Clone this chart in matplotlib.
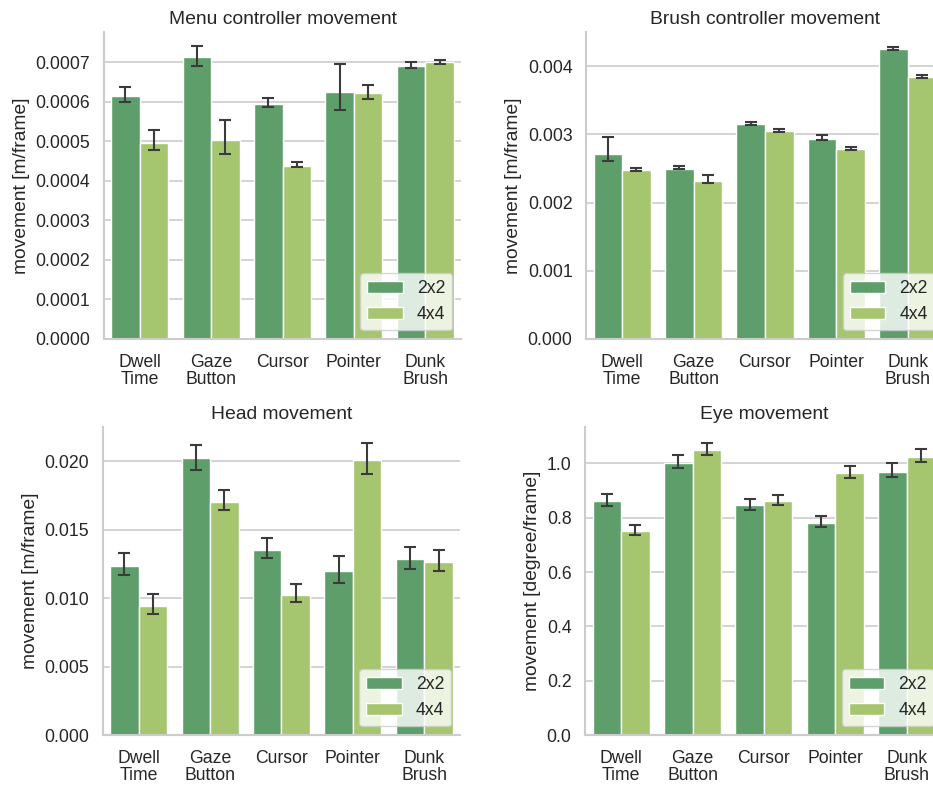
"""Movement per frame for each selection technique, 2x2 vs 4x4 grids"""
import numpy as np
import seaborn as sns
from matplotlib import pyplot as plt
from matplotlib.ticker import MultipleLocator, FormatStrFormatter

techniques = ["Dwell\nTime", "Gaze\nButton", "Cursor", "Pointer", "Dunk\nBrush"]
grids = ["2x2", "4x4"]

# menu controller movement [m/frame]: means, lower and upper CI bounds
menu_2x2 = [0.000616, 0.000713, 0.000596, 0.000626, 0.000691]
menu_2x2_lo = [0.000600, 0.000691, 0.000586, 0.000579, 0.000686]
menu_2x2_hi = [0.000638, 0.000742, 0.000611, 0.000697, 0.000701]
menu_4x4 = [0.000497, 0.000503, 0.000438, 0.000622, 0.000700]
menu_4x4_lo = [0.000478, 0.000468, 0.000436, 0.000607, 0.000696]
menu_4x4_hi = [0.000530, 0.000555, 0.000447, 0.000642, 0.000707]

# brush controller movement [m/frame]
brush_2x2 = [0.002717, 0.002498, 0.003151, 0.002937, 0.004244]
brush_2x2_lo = [0.002615, 0.002493, 0.003137, 0.002917, 0.004229]
brush_2x2_hi = [0.002961, 0.002532, 0.003185, 0.002990, 0.004278]
brush_4x4 = [0.002473, 0.002317, 0.003044, 0.002780, 0.003834]
brush_4x4_lo = [0.002463, 0.002283, 0.003029, 0.002771, 0.003820]
brush_4x4_hi = [0.002512, 0.002400, 0.003073, 0.002815, 0.003868]

# head movement [m/frame]
head_2x2 = [0.01235, 0.02022, 0.01352, 0.01199, 0.01284]
head_2x2_lo = [0.01167, 0.01939, 0.01296, 0.01111, 0.01211]
head_2x2_hi = [0.01328, 0.02117, 0.01437, 0.01306, 0.01376]
head_4x4 = [0.00945, 0.01705, 0.01026, 0.02012, 0.01264]
head_4x4_lo = [0.00887, 0.01644, 0.00970, 0.01907, 0.01201]
head_4x4_hi = [0.01028, 0.01790, 0.01104, 0.02134, 0.01350]

# eye movement [degree/frame]
eye_2x2 = [0.862, 1.001, 0.846, 0.781, 0.969]
eye_2x2_lo = [0.844, 0.984, 0.829, 0.767, 0.950]
eye_2x2_hi = [0.888, 1.030, 0.870, 0.805, 1.001]
eye_4x4 = [0.751, 1.048, 0.860, 0.964, 1.025]
eye_4x4_lo = [0.737, 1.031, 0.845, 0.947, 1.005]
eye_4x4_hi = [0.773, 1.076, 0.885, 0.991, 1.053]

colors = ["#5e9e6a", "#a6c56f"]

sns.set_style("whitegrid")
plt.rcParams['font.family'] = ['Liberation Sans', 'DejaVu Sans']
plt.rcParams['text.color'] = '#262626'
plt.rcParams['axes.labelcolor'] = '#262626'
plt.rcParams['xtick.color'] = '#262626'
plt.rcParams['ytick.color'] = '#262626'


def bar_panel(ax, series, title, ylabel, ylim, step, fmt):
    """grouped bars with asymmetric error bars"""
    x = np.arange(len(techniques))
    width = 0.4
    for i, (mean, lo, hi) in enumerate(series):
        mean = np.array(mean)
        yerr = [mean - np.array(lo), np.array(hi) - mean]
        ax.bar(x + (i - 0.5) * width, mean, width, color=colors[i],
               edgecolor="white", linewidth=1, label=grids[i], zorder=2)
        ax.errorbar(x + (i - 0.5) * width, mean, yerr=yerr, fmt="none",
                    ecolor="#3b3b3b", elinewidth=1.5, capsize=4,
                    capthick=1.5, zorder=3)
    ax.set_xlim(-0.5, len(techniques) - 0.5)
    ax.set_ylim(*ylim)
    ax.yaxis.set_major_locator(MultipleLocator(step))
    ax.yaxis.set_major_formatter(FormatStrFormatter(fmt))
    ax.set_xticks(x)
    ax.set_xticklabels(techniques)
    for lbl in ax.get_xticklabels():
        lbl.set_linespacing(1.0)
    ax.tick_params(axis="x", length=0, pad=11, labelsize=12.7)
    ax.tick_params(axis="y", length=0, pad=10, labelsize=12.7)
    ax.grid(axis="x", visible=False)
    ax.grid(axis="y", color="#cccccc", linewidth=1.2, zorder=0)
    ax.set_axisbelow(True)
    for side in ["top", "right"]:
        ax.spines[side].set_visible(False)
    for side in ["left", "bottom"]:
        ax.spines[side].set_color("#cccccc")
        ax.spines[side].set_linewidth(1.5)
    ax.set_title(title, fontsize=13.9)
    ax.set_ylabel(ylabel, fontsize=13.9)
    ax.legend(loc="lower right", fontsize=12.7, borderaxespad=0.5)


fig = plt.figure(figsize=(9.33, 7.9), dpi=100)
ax1 = fig.add_axes([0.1115, 0.5709, 0.3826, 0.3886])
ax2 = fig.add_axes([0.6286, 0.5709, 0.3826, 0.3886])
ax3 = fig.add_axes([0.1104, 0.0696, 0.3826, 0.3899])
ax4 = fig.add_axes([0.6275, 0.0696, 0.3826, 0.3899])

bar_panel(ax1, [(menu_2x2, menu_2x2_lo, menu_2x2_hi), (menu_4x4, menu_4x4_lo, menu_4x4_hi)],
          "Menu controller movement", "movement [m/frame]", (0, 0.000777), 0.0001, "%.4f")
bar_panel(ax2, [(brush_2x2, brush_2x2_lo, brush_2x2_hi), (brush_4x4, brush_4x4_lo, brush_4x4_hi)],
          "Brush controller movement", "movement [m/frame]", (0, 0.0045), 0.001, "%.3f")
bar_panel(ax3, [(head_2x2, head_2x2_lo, head_2x2_hi), (head_4x4, head_4x4_lo, head_4x4_hi)],
          "Head movement", "movement [m/frame]", (0, 0.0225), 0.005, "%.3f")
bar_panel(ax4, [(eye_2x2, eye_2x2_lo, eye_2x2_hi), (eye_4x4, eye_4x4_lo, eye_4x4_hi)],
          "Eye movement", "movement [degree/frame]", (0, 1.134), 0.2, "%.1f")

plt.savefig("out.png", dpi=100)
